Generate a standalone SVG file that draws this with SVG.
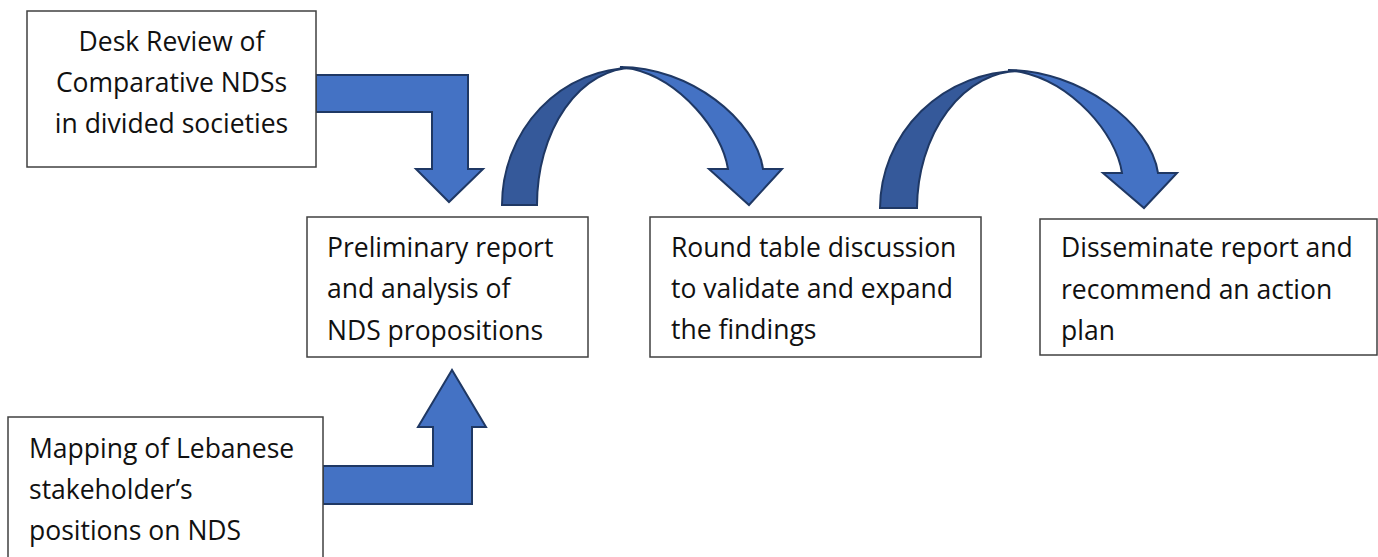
<svg xmlns="http://www.w3.org/2000/svg" width="1378" height="557" viewBox="0 0 1378 557">
<style>
.box{fill:#fff;stroke:#404040;stroke-width:1.5}
.t{font-family:"Open Sans","Noto Sans",sans-serif;font-size:26.5px;fill:#111}
.lt{fill:#4472C4;stroke:#1F3864;stroke-width:2;stroke-linejoin:miter}
.dk{fill:#35599A;stroke:#1F3864;stroke-width:2}
</style>
<rect width="1378" height="557" fill="#fff"/>
<g id="connectors">
<path class="lt" d="M316,75 L468,75 L468,169 L483,169 L449,202 L416,169 L432,169 L432,112 L316,112 Z"/>
<path class="lt" d="M323,466 L433,466 L433,427 L418,427 L452,370 L486,427 L472,427 L472,504 L323,504 Z"/>
<path class="lt" d="M620,67 C690,67 756,120 763,169 L782,169 L749,205 L709,169 L728,169 C722,130 680,80 633,69 Z"/>
<path class="dk" d="M502,205 A131,137 0 0 1 633,68 A96,137 0 0 0 537,205 Z"/>
<path class="lt" d="M1008,70 C1078,70 1151,123 1158,173 L1177,173 L1144,208 L1103,173 L1122,173 C1116,133 1072,83 1021,72 Z"/>
<path class="dk" d="M880,208 A140,138 0 0 1 1020,71 A103,138 0 0 0 917,208 Z"/>
</g>
<g id="n1">
<rect class="box" x="27" y="11" width="289" height="156"/>
<text class="t" text-anchor="middle"><tspan x="171.5" y="51">Desk Review of</tspan><tspan x="171.5" y="92">Comparative NDSs</tspan><tspan x="171.5" y="133">in divided societies</tspan></text>
</g>
<g id="n2">
<rect class="box" x="307" y="217" width="281" height="140"/>
<text class="t"><tspan x="327" y="257">Preliminary report</tspan><tspan x="327" y="298">and analysis of</tspan><tspan x="327" y="340">NDS propositions</tspan></text>
</g>
<g id="n3">
<rect class="box" x="650" y="217" width="331" height="140"/>
<text class="t"><tspan x="671" y="257">Round table discussion</tspan><tspan x="671" y="298">to validate and expand</tspan><tspan x="671" y="339">the findings</tspan></text>
</g>
<g id="n4">
<rect class="box" x="1040" y="219" width="337" height="136"/>
<text class="t"><tspan x="1061" y="257">Disseminate report and</tspan><tspan x="1061" y="299">recommend an action</tspan><tspan x="1061" y="340">plan</tspan></text>
</g>
<g id="n5">
<rect class="box" x="8" y="417" width="315" height="145"/>
<text class="t"><tspan x="29" y="458">Mapping of Lebanese</tspan><tspan x="29" y="499">stakeholder’s</tspan><tspan x="29" y="540">positions on NDS</tspan></text>
</g>
</svg>
